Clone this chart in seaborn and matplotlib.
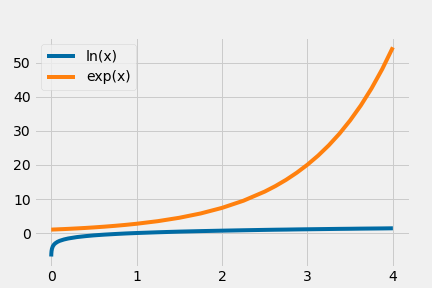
import matplotlib
matplotlib.use("Agg")
import matplotlib.pyplot as plt
import seaborn as sns
import pandas as pd

x_vals = [0.001, 0.0025, 0.005, 0.01, 0.02, 0.035, 0.05, 0.075, 0.1, 0.15, 0.2, 0.3, 0.4, 0.5,
          0.625, 0.75, 0.875, 1.0, 1.25, 1.5, 1.75, 2.0, 2.25, 2.5, 2.625, 2.75, 2.875, 3.0,
          3.125, 3.25, 3.375, 3.5, 3.625, 3.75, 3.875, 4.0]
ln_vals = [-6.91, -5.99, -5.30, -4.61, -3.91, -3.35, -3.00, -2.59, -2.30, -1.90, -1.61, -1.20,
           -0.92, -0.69, -0.47, -0.29, -0.13, 0.0, 0.22, 0.41, 0.56, 0.69, 0.81, 0.92, 0.97,
           1.01, 1.06, 1.10, 1.14, 1.18, 1.22, 1.25, 1.29, 1.32, 1.35, 1.39]
exp_vals = [1.00, 1.00, 1.01, 1.01, 1.02, 1.04, 1.05, 1.08, 1.11, 1.16, 1.22, 1.35, 1.49, 1.65,
            1.87, 2.12, 2.40, 2.72, 3.49, 4.48, 5.75, 7.39, 9.49, 12.18, 13.80, 15.64, 17.73,
            20.09, 22.76, 25.79, 29.22, 33.12, 37.52, 42.52, 48.18, 54.60]
labels = ["ln(x)", "exp(x)"]

plt.style.use("fivethirtyeight")
df = pd.DataFrame({
    "x": x_vals * 2,
    "y": ln_vals + exp_vals,
    "series": [labels[0]] * len(x_vals) + [labels[1]] * len(x_vals),
})

fig, ax = plt.subplots(figsize=(6, 4), dpi=72)
fig.patch.set_facecolor("#f0f0f0")
sns.lineplot(data=df, x="x", y="y", hue="series", palette=["#006ba4", "#ff800e"],
             linewidth=4, ax=ax, sort=False)
ax.set_xlabel("")
ax.set_ylabel("")
ax.set_xticks([0, 1, 2, 3, 4])
ax.set_yticks([0, 10, 20, 30, 40, 50])
ax.legend(loc="upper left", fontsize=14)
fig.subplots_adjust(left=0.079, right=0.949, top=0.872, bottom=0.073)
fig.savefig("out.png", dpi=72, facecolor=fig.get_facecolor())
